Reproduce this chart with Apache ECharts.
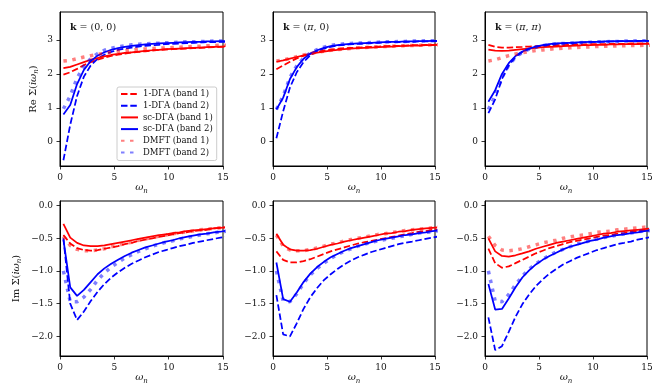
<!DOCTYPE html>
<html>
<head>
<meta charset="utf-8">
<script src="https://cdn.jsdelivr.net/npm/echarts@6/dist/echarts.min.js"></script>
<style>
  html, body { margin: 0; padding: 0; background: #fff; }
  #chart { width: 665px; height: 392px; }
</style>
</head>
<body>
<div id="chart"></div>
<script>
// Matsubara frequencies (beta = 10)
const omega = [0.314, 0.942, 1.571, 2.199, 2.827, 3.456, 4.084, 4.712, 5.341, 5.969, 6.597, 7.226, 7.854,
  8.482, 9.111, 9.739, 10.367, 10.996, 11.624, 12.252, 12.881, 13.509, 14.137, 14.765, 15.394];

const seriesNames = ['1-DΓA (band 1)', '1-DΓA (band 2)', 'sc-DΓA (band 1)', 'sc-DΓA (band 2)', 'DMFT (band 1)', 'DMFT (band 2)'];
const panelTitles = ['(0, 0)', '(π, 0)', '(π, π)'];
const reTicks = [0, 1, 2, 3];
const imTicks = [-2, -1.5, -1, -0.5, 0];
const xTicks = [0, 5, 10, 15];

// Re Sigma, k = (0,0)
const re00_dga1 = [1.98, 2.05, 2.15, 2.26, 2.35, 2.42, 2.48, 2.53, 2.57, 2.60, 2.63, 2.65, 2.67, 2.69, 2.71, 2.72, 2.73, 2.74, 2.75, 2.76, 2.77, 2.78, 2.79, 2.80, 2.80];
const re00_dga2 = [-0.55, 0.50, 1.35, 1.92, 2.25, 2.45, 2.57, 2.65, 2.71, 2.75, 2.78, 2.81, 2.83, 2.85, 2.86, 2.88, 2.89, 2.90, 2.91, 2.92, 2.93, 2.94, 2.94, 2.95, 2.95];
const re00_sc1 = [2.17, 2.21, 2.28, 2.35, 2.42, 2.47, 2.52, 2.56, 2.59, 2.62, 2.64, 2.66, 2.68, 2.70, 2.71, 2.73, 2.74, 2.75, 2.76, 2.77, 2.78, 2.79, 2.80, 2.81, 2.82];
const re00_sc2 = [0.80, 1.08, 1.70, 2.12, 2.38, 2.54, 2.64, 2.71, 2.76, 2.80, 2.83, 2.85, 2.87, 2.89, 2.90, 2.91, 2.92, 2.93, 2.94, 2.95, 2.95, 2.96, 2.96, 2.97, 2.97];
const re00_dmft1 = [2.38, 2.40, 2.45, 2.50, 2.54, 2.58, 2.61, 2.64, 2.67, 2.69, 2.71, 2.73, 2.74, 2.75, 2.76, 2.77, 2.78, 2.79, 2.80, 2.81, 2.82, 2.83, 2.84, 2.85, 2.85];
const re00_dmft2 = [0.97, 1.35, 1.88, 2.23, 2.45, 2.60, 2.70, 2.76, 2.80, 2.83, 2.86, 2.88, 2.89, 2.90, 2.91, 2.92, 2.93, 2.94, 2.95, 2.95, 2.96, 2.96, 2.97, 2.97, 2.98];

// Re Sigma, k = (pi,0)
const rePi0_dga1 = [2.14, 2.25, 2.36, 2.46, 2.54, 2.60, 2.65, 2.69, 2.72, 2.74, 2.76, 2.77, 2.78, 2.79, 2.80, 2.81, 2.82, 2.83, 2.83, 2.84, 2.85, 2.85, 2.86, 2.86, 2.87];
const rePi0_dga2 = [0.10, 0.90, 1.60, 2.05, 2.35, 2.55, 2.67, 2.75, 2.80, 2.84, 2.86, 2.88, 2.89, 2.90, 2.91, 2.92, 2.93, 2.94, 2.94, 2.95, 2.95, 2.96, 2.96, 2.97, 2.97];
const rePi0_sc1 = [2.36, 2.40, 2.45, 2.50, 2.55, 2.59, 2.63, 2.66, 2.69, 2.71, 2.73, 2.75, 2.76, 2.77, 2.78, 2.79, 2.80, 2.81, 2.82, 2.83, 2.84, 2.84, 2.85, 2.85, 2.86];
const rePi0_sc2 = [0.95, 1.30, 1.85, 2.20, 2.45, 2.60, 2.70, 2.77, 2.82, 2.85, 2.87, 2.89, 2.90, 2.91, 2.92, 2.93, 2.94, 2.95, 2.95, 2.96, 2.96, 2.97, 2.97, 2.98, 2.98];
const rePi0_dmft1 = [2.38, 2.41, 2.46, 2.51, 2.56, 2.60, 2.64, 2.67, 2.70, 2.72, 2.74, 2.75, 2.77, 2.78, 2.79, 2.80, 2.81, 2.82, 2.83, 2.83, 2.84, 2.85, 2.85, 2.86, 2.86];
const rePi0_dmft2 = [0.95, 1.35, 1.90, 2.24, 2.47, 2.62, 2.72, 2.79, 2.84, 2.87, 2.89, 2.90, 2.91, 2.92, 2.93, 2.94, 2.95, 2.95, 2.96, 2.96, 2.97, 2.97, 2.98, 2.98, 2.98];

// Re Sigma, k = (pi,pi)
const rePiPi_dga1 = [2.86, 2.80, 2.78, 2.78, 2.79, 2.80, 2.81, 2.82, 2.83, 2.84, 2.85, 2.85, 2.86, 2.87, 2.87, 2.88, 2.88, 2.88, 2.89, 2.89, 2.89, 2.90, 2.90, 2.90, 2.90];
const rePiPi_dga2 = [0.84, 1.25, 1.85, 2.25, 2.50, 2.65, 2.74, 2.80, 2.84, 2.87, 2.89, 2.90, 2.91, 2.92, 2.93, 2.94, 2.95, 2.95, 2.96, 2.96, 2.97, 2.97, 2.97, 2.98, 2.98];
const rePiPi_sc1 = [2.72, 2.69, 2.68, 2.69, 2.71, 2.73, 2.75, 2.77, 2.79, 2.80, 2.81, 2.82, 2.83, 2.84, 2.85, 2.85, 2.86, 2.86, 2.87, 2.87, 2.88, 2.88, 2.88, 2.89, 2.89];
const rePiPi_sc2 = [1.18, 1.52, 2.00, 2.32, 2.53, 2.66, 2.75, 2.81, 2.85, 2.88, 2.90, 2.91, 2.92, 2.93, 2.94, 2.95, 2.95, 2.96, 2.96, 2.97, 2.97, 2.97, 2.98, 2.98, 2.98];
const rePiPi_dmft1 = [2.38, 2.42, 2.48, 2.54, 2.59, 2.63, 2.66, 2.69, 2.71, 2.73, 2.75, 2.76, 2.77, 2.78, 2.79, 2.80, 2.81, 2.82, 2.82, 2.83, 2.83, 2.84, 2.84, 2.85, 2.85];
const rePiPi_dmft2 = [0.95, 1.35, 1.90, 2.26, 2.49, 2.64, 2.73, 2.79, 2.84, 2.87, 2.89, 2.90, 2.91, 2.92, 2.93, 2.94, 2.95, 2.95, 2.96, 2.96, 2.97, 2.97, 2.98, 2.98, 2.98];

// Im Sigma, k = (0,0)
const im00_dga1 = [-0.45, -0.58, -0.65, -0.68, -0.69, -0.68, -0.66, -0.64, -0.62, -0.59, -0.57, -0.54, -0.52, -0.50, -0.48, -0.46, -0.44, -0.42, -0.41, -0.39, -0.38, -0.37, -0.35, -0.34, -0.33];
const im00_dga2 = [-0.50, -1.50, -1.75, -1.62, -1.46, -1.32, -1.20, -1.10, -1.02, -0.95, -0.89, -0.84, -0.79, -0.75, -0.71, -0.68, -0.65, -0.62, -0.60, -0.57, -0.55, -0.53, -0.51, -0.49, -0.47];
const im00_sc1 = [-0.28, -0.49, -0.57, -0.61, -0.62, -0.62, -0.61, -0.59, -0.57, -0.55, -0.53, -0.51, -0.49, -0.47, -0.45, -0.44, -0.42, -0.41, -0.39, -0.38, -0.37, -0.36, -0.35, -0.34, -0.33];
const im00_sc2 = [-0.52, -1.25, -1.38, -1.29, -1.17, -1.05, -0.96, -0.89, -0.83, -0.77, -0.72, -0.68, -0.64, -0.61, -0.58, -0.55, -0.53, -0.50, -0.48, -0.46, -0.44, -0.43, -0.41, -0.40, -0.38];
const im00_dmft1 = [-0.47, -0.61, -0.67, -0.69, -0.69, -0.68, -0.66, -0.63, -0.61, -0.58, -0.56, -0.53, -0.51, -0.49, -0.47, -0.45, -0.43, -0.42, -0.40, -0.39, -0.37, -0.36, -0.35, -0.34, -0.33];
const im00_dmft2 = [-1.00, -1.47, -1.47, -1.40, -1.28, -1.14, -1.03, -0.94, -0.87, -0.80, -0.75, -0.70, -0.66, -0.62, -0.59, -0.56, -0.54, -0.51, -0.49, -0.47, -0.45, -0.43, -0.42, -0.40, -0.39];

// Im Sigma, k = (pi,0)
const imPi0_dga1 = [-0.70, -0.83, -0.87, -0.87, -0.85, -0.82, -0.78, -0.74, -0.70, -0.67, -0.64, -0.61, -0.58, -0.56, -0.54, -0.52, -0.50, -0.48, -0.46, -0.44, -0.42, -0.40, -0.39, -0.37, -0.36];
const imPi0_dga2 = [-1.37, -1.97, -2.00, -1.80, -1.58, -1.40, -1.26, -1.14, -1.05, -0.97, -0.90, -0.84, -0.79, -0.75, -0.71, -0.68, -0.65, -0.62, -0.59, -0.57, -0.55, -0.53, -0.51, -0.49, -0.47];
const imPi0_sc1 = [-0.43, -0.60, -0.67, -0.69, -0.69, -0.68, -0.66, -0.63, -0.60, -0.58, -0.55, -0.53, -0.51, -0.49, -0.47, -0.45, -0.43, -0.42, -0.40, -0.39, -0.37, -0.36, -0.35, -0.34, -0.33];
const imPi0_sc2 = [-0.87, -1.43, -1.47, -1.33, -1.17, -1.04, -0.94, -0.86, -0.79, -0.74, -0.69, -0.65, -0.62, -0.59, -0.56, -0.53, -0.51, -0.49, -0.47, -0.45, -0.44, -0.42, -0.41, -0.39, -0.38];
const imPi0_dmft1 = [-0.45, -0.62, -0.68, -0.69, -0.69, -0.67, -0.65, -0.62, -0.59, -0.57, -0.54, -0.52, -0.50, -0.48, -0.46, -0.44, -0.43, -0.41, -0.40, -0.38, -0.37, -0.36, -0.35, -0.34, -0.33];
const imPi0_dmft2 = [-1.00, -1.46, -1.47, -1.35, -1.19, -1.06, -0.96, -0.88, -0.81, -0.75, -0.70, -0.66, -0.62, -0.59, -0.56, -0.54, -0.52, -0.50, -0.48, -0.46, -0.44, -0.42, -0.41, -0.40, -0.38];

// Im Sigma, k = (pi,pi)
const imPiPi_dga1 = [-0.66, -0.88, -0.95, -0.93, -0.88, -0.83, -0.78, -0.73, -0.69, -0.65, -0.62, -0.59, -0.56, -0.54, -0.52, -0.50, -0.48, -0.46, -0.45, -0.43, -0.42, -0.40, -0.39, -0.38, -0.37];
const imPiPi_dga2 = [-1.71, -2.21, -2.15, -1.93, -1.70, -1.51, -1.36, -1.23, -1.13, -1.04, -0.97, -0.90, -0.85, -0.80, -0.76, -0.72, -0.68, -0.65, -0.62, -0.59, -0.57, -0.55, -0.52, -0.50, -0.48];
const imPiPi_sc1 = [-0.50, -0.70, -0.77, -0.78, -0.76, -0.73, -0.70, -0.66, -0.63, -0.60, -0.57, -0.55, -0.53, -0.51, -0.49, -0.47, -0.45, -0.43, -0.42, -0.40, -0.39, -0.38, -0.37, -0.36, -0.35];
const imPiPi_sc2 = [-1.20, -1.59, -1.58, -1.42, -1.25, -1.10, -0.99, -0.90, -0.83, -0.77, -0.72, -0.67, -0.63, -0.60, -0.57, -0.54, -0.52, -0.49, -0.47, -0.45, -0.44, -0.42, -0.41, -0.39, -0.38];
const imPiPi_dmft1 = [-0.47, -0.61, -0.68, -0.69, -0.68, -0.66, -0.63, -0.60, -0.57, -0.55, -0.53, -0.50, -0.48, -0.46, -0.45, -0.43, -0.41, -0.40, -0.39, -0.37, -0.36, -0.35, -0.34, -0.33, -0.32];
const imPiPi_dmft2 = [-1.00, -1.46, -1.47, -1.36, -1.21, -1.08, -0.97, -0.89, -0.82, -0.76, -0.71, -0.67, -0.63, -0.59, -0.56, -0.54, -0.51, -0.49, -0.47, -0.45, -0.43, -0.42, -0.40, -0.39, -0.38];

const panels = [
  [re00_dga1, re00_dga2, re00_sc1, re00_sc2, re00_dmft1, re00_dmft2],
  [rePi0_dga1, rePi0_dga2, rePi0_sc1, rePi0_sc2, rePi0_dmft1, rePi0_dmft2],
  [rePiPi_dga1, rePiPi_dga2, rePiPi_sc1, rePiPi_sc2, rePiPi_dmft1, rePiPi_dmft2],
  [im00_dga1, im00_dga2, im00_sc1, im00_sc2, im00_dmft1, im00_dmft2],
  [imPi0_dga1, imPi0_dga2, imPi0_sc1, imPi0_sc2, imPi0_dmft1, imPi0_dmft2],
  [imPiPi_dga1, imPiPi_dga2, imPiPi_sc1, imPiPi_sc2, imPiPi_dmft1, imPiPi_dmft2]
];

const FONT = 'DejaVu Serif';
const styles = [
  { color: '#ff0000', width: 1.75, type: [6.5, 2.8], opacity: 1 },
  { color: '#0000ff', width: 1.75, type: [6.5, 2.8], opacity: 1 },
  { color: '#ff0000', width: 1.75, type: 'solid', opacity: 1 },
  { color: '#0000ff', width: 1.75, type: 'solid', opacity: 1 },
  { color: '#ff0000', width: 3.5, type: [3.5, 5.5], opacity: 0.5 },
  { color: '#0000ff', width: 3.5, type: [3.5, 5.5], opacity: 0.5 }
];

const lefts = [60, 273, 485];
const widths = [163, 162, 162];
const grids = [], xAxes = [], yAxes = [], series = [], titles = [];

for (let p = 0; p < 6; p++) {
  const col = p % 3, row = Math.floor(p / 3);
  grids.push({
    left: lefts[col], width: widths[col],
    top: row === 0 ? 12 : 201, height: row === 0 ? 154 : 155,
    show: true, borderColor: '#000', borderWidth: 1, backgroundColor: 'transparent'
  });
  xAxes.push({
    type: 'value', gridIndex: p, min: 0, max: 15, interval: 5,
    name: '{w|ω}{n|n}', nameLocation: 'middle', nameGap: 9,
    nameTextStyle: {
      rich: {
        w: { fontFamily: FONT, fontStyle: 'italic', fontSize: 10, color: '#111' },
        n: { fontFamily: FONT, fontStyle: 'italic', fontSize: 7, color: '#111', padding: [6, 0, 0, 0] }
      }
    },
    axisLine: { show: true, onZero: false, lineStyle: { color: '#000', width: 1 } },
    axisTick: { show: true, length: 3.5, lineStyle: { color: '#000', width: 0.8 } },
    axisLabel: { fontFamily: FONT, fontSize: 9, color: '#111', margin: 7 },
    splitLine: { show: false }
  });
  const isRe = row === 0;
  const ticks = isRe ? reTicks : imTicks;
  yAxes.push({
    type: 'value', gridIndex: p,
    min: isRe ? -0.72 : -2.30, max: isRe ? 3.83 : 0.07,
    name: col === 0 ? (isRe ? '{r|Re Σ(}{i|iω}{s|n}{r|)}' : '{r|Im Σ(}{i|iω}{s|n}{r|)}') : '',
    nameLocation: 'middle', nameRotate: 90, nameGap: isRe ? 20 : 37,
    nameTextStyle: {
      rich: {
        r: { fontFamily: FONT, fontSize: 10, color: '#111' },
        i: { fontFamily: FONT, fontStyle: 'italic', fontSize: 10, color: '#111' },
        s: { fontFamily: FONT, fontStyle: 'italic', fontSize: 7, color: '#111', padding: [6, 0, 0, 0] }
      }
    },
    axisLine: { show: true, onZero: false, lineStyle: { color: '#000', width: 1 } },
    axisTick: { show: true, length: 3.5, customValues: ticks, lineStyle: { color: '#000', width: 0.8 } },
    axisLabel: {
      fontFamily: FONT, fontSize: 9, color: '#111', margin: 7, customValues: ticks,
      formatter: v => isRe ? String(v) : v.toFixed(1).replace('-', '\u2212')
    },
    splitLine: { show: false }
  });
  if (isRe) {
    titles.push({
      text: '{b|k} = ' + panelTitles[col].replace(/π/g, '{p|π}'),
      left: lefts[col] + 5, top: 18,
      textStyle: {
        fontFamily: FONT, fontSize: 9.5, fontWeight: 'normal', color: '#111',
        rich: {
          b: { fontFamily: FONT, fontSize: 9.5, fontWeight: 'bold', color: '#111' },
          p: { fontFamily: FONT, fontSize: 9.5, fontStyle: 'italic', color: '#111' }
        }
      }
    });
  }
  panels[p].forEach((vals, s) => {
    const st = styles[s];
    series.push({
      name: seriesNames[s], type: 'line', xAxisIndex: p, yAxisIndex: p,
      data: omega.map((w, i) => [w, vals[i]]),
      showSymbol: false, symbol: 'none', clip: true, silent: true,
      lineStyle: { color: st.color, width: st.width, type: st.type, opacity: st.opacity, cap: 'butt' },
      itemStyle: { color: st.color, opacity: st.opacity }
    });
  });
}

const chart = echarts.init(document.getElementById('chart'), null, { renderer: 'canvas' });
chart.setOption({
  animation: false,
  backgroundColor: '#fff',
  title: titles,
  legend: {
    data: seriesNames,
    orient: 'vertical', left: 117, top: 87,
    itemWidth: 17, itemHeight: 8, itemGap: 1.7,
    padding: [2, 4, 3, 3],
    backgroundColor: 'rgba(255,255,255,0.8)',
    borderColor: '#cccccc', borderWidth: 1, borderRadius: 2,
    itemStyle: { opacity: 0 },
    textStyle: { fontFamily: FONT, fontSize: 8.5, lineHeight: 10, color: '#111' },
    selectedMode: false
  },
  grid: grids,
  xAxis: xAxes,
  yAxis: yAxes,
  series: series
});
</script>
</body>
</html>
